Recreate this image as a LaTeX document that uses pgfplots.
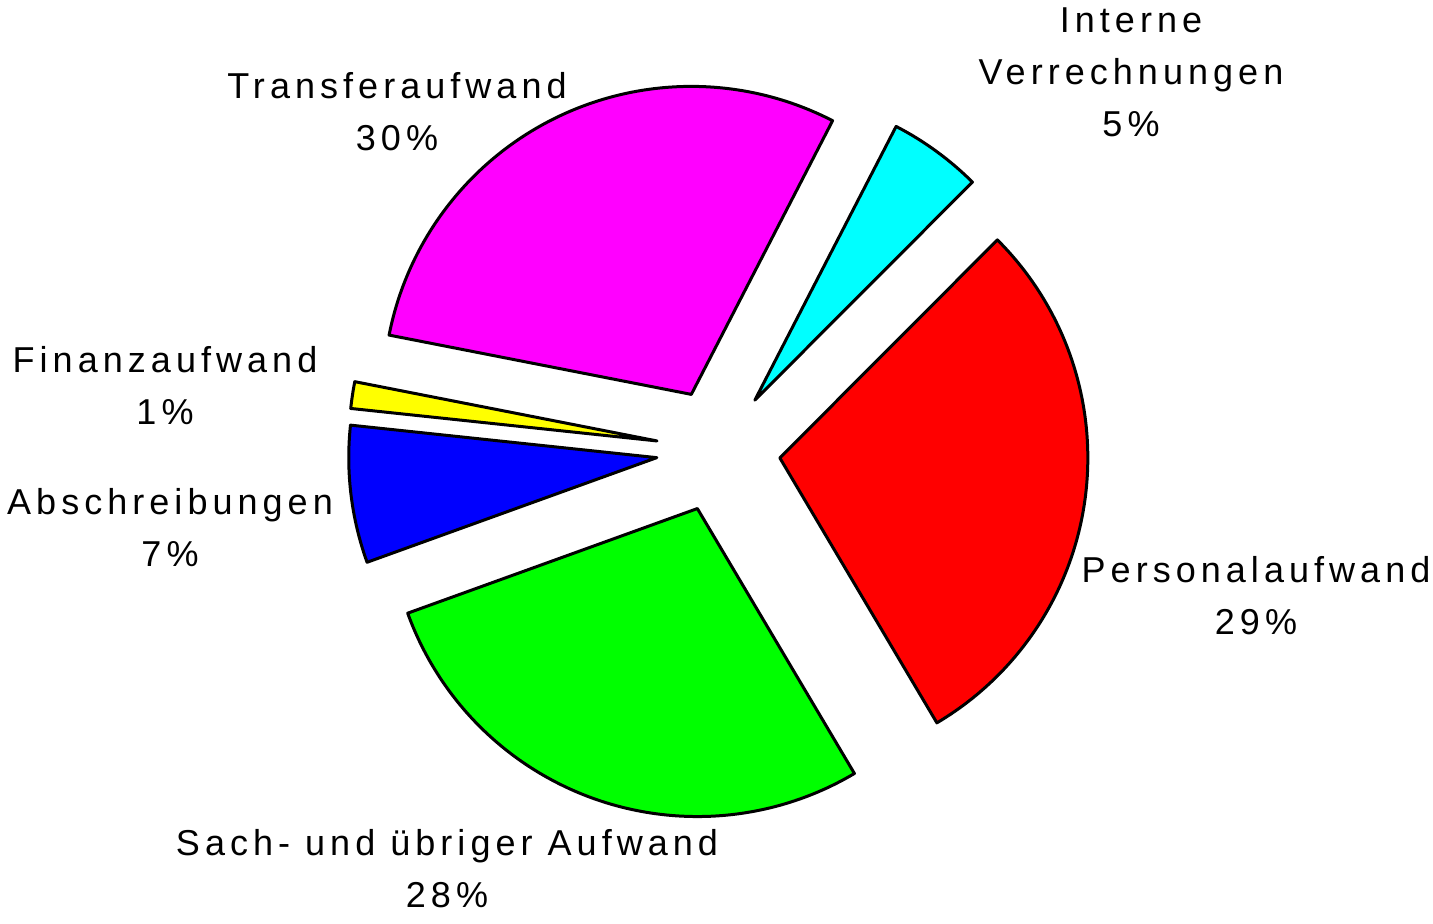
\documentclass[border=0pt]{standalone}
\usepackage{pgfplots}
\pgfplotsset{compat=1.18}
\usepackage{fontspec}
\setmainfont{Liberation Sans}[LetterSpace=14]
\definecolor{pcyan}{RGB}{0,255,255}
\definecolor{pred}{RGB}{255,0,0}
\definecolor{pgreen}{RGB}{0,255,0}
\definecolor{pblue}{RGB}{0,0,255}
\definecolor{pyellow}{RGB}{255,255,0}
\definecolor{pmagenta}{RGB}{255,0,255}
\def\startang{62.7}
\def\cx{718.3}\def\cy{472.8}
\def\expl{62}
\def\rad{154pt}
% #1 value (percent), #2 colour, #3 cumulative percent before this slice
\newcommand\slice[3]{%
  \pgfmathsetmacro\a{\startang-3.6*#3}%
  \pgfmathsetmacro\b{\a-3.6*#1}%
  \pgfmathsetmacro\m{(\a+\b)/2}%
  \pgfmathsetmacro\vx{\cx+\expl*cos(\m)}%
  \pgfmathsetmacro\vy{\cy+\expl*sin(\m)}%
  \edef\temp{\noexpand\filldraw[fill=#2,draw=black,line width=1.5pt,line join=round]
    (axis cs:\vx,\vy) -- ++(\a:\rad) arc[start angle=\a,end angle=\b,radius=\rad] -- cycle;}%
  \temp}
\tikzset{lbl/.style={font=\fontsize{18}{26}\selectfont,align=center,inner sep=0pt}}
\begin{document}
\begin{tikzpicture}
\begin{axis}[x=0.5pt,y=0.5pt,xmin=0,xmax=1433,ymin=0,ymax=923,
  axis lines=none,scale only axis,clip=false]
\slice{4.9}{pcyan}{0}
\slice{29.0}{pred}{4.9}
\slice{28.0}{pgreen}{33.9}
\slice{7.2}{pblue}{61.9}
\slice{1.4}{pyellow}{69.1}
\slice{29.5}{pmagenta}{70.5}
\node[lbl] at (axis cs:1131,850.5) {Interne\\Verrechnungen\\5\%};
\node[lbl] at (axis cs:397,811.5) {Transferaufwand\\30\%};
\node[lbl] at (axis cs:165,537) {Finanzaufwand\\1\%};
\node[lbl] at (axis cs:170,395.5) {Abschreibungen\\7\%};
\node[lbl] at (axis cs:1256,327.5) {Personalaufwand\\29\%};
\node[lbl] at (axis cs:447,54) {Sach- und übriger Aufwand\\28\%};
\end{axis}
\pgfresetboundingbox
\path (current axis.south west) rectangle (current axis.north east);
\end{tikzpicture}
\end{document}
